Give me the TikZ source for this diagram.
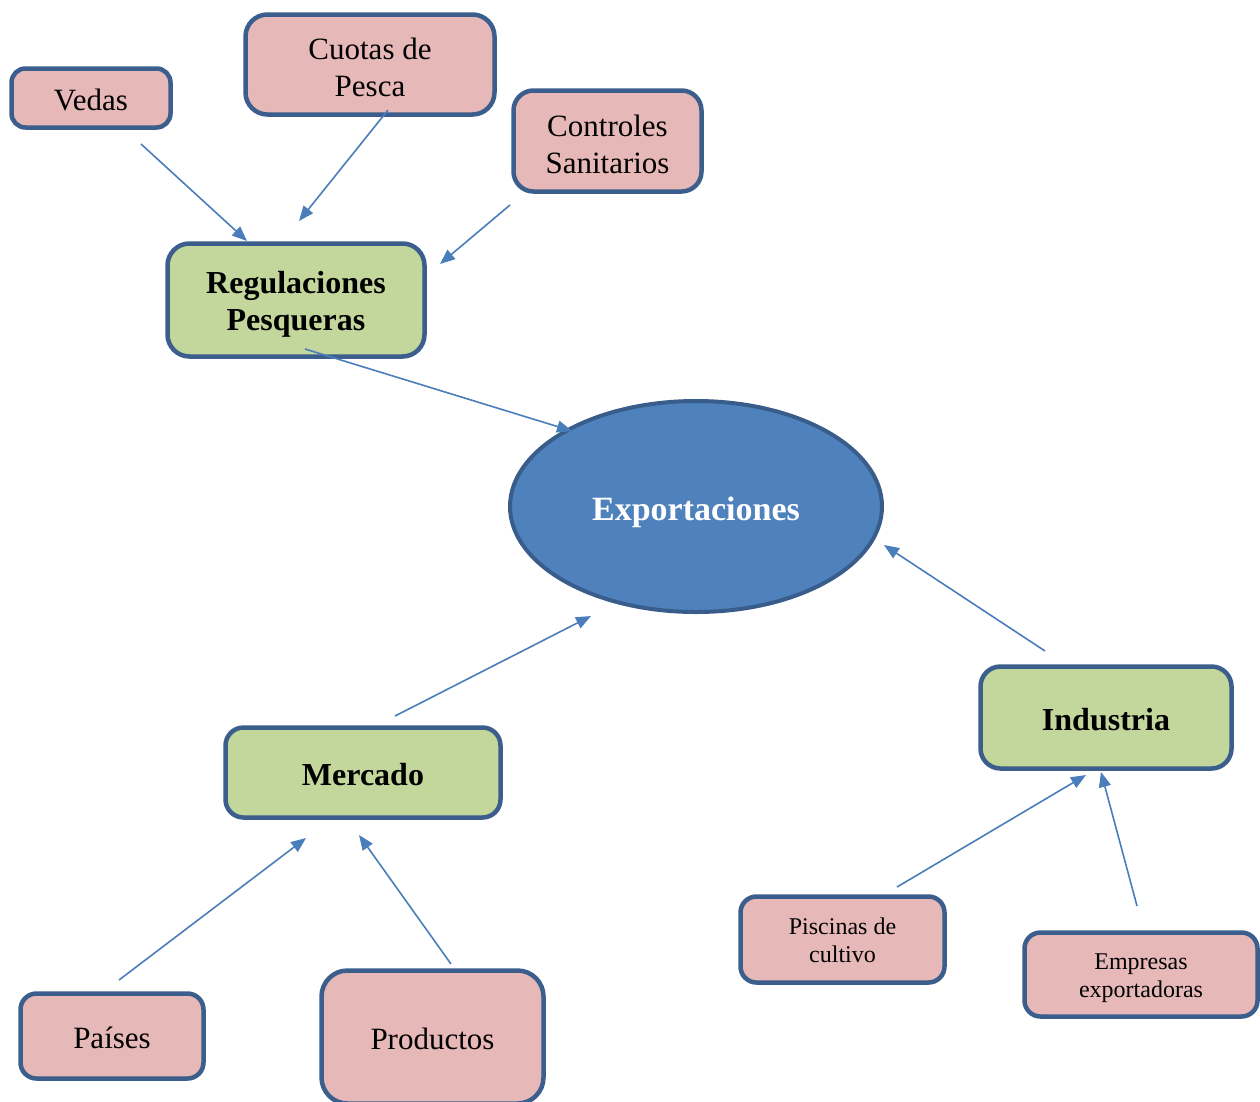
\documentclass[tikz,border=0pt]{standalone}
\usepackage{fontspec}
\setmainfont{Liberation Serif}
\usetikzlibrary{arrows.meta,shapes.geometric}
\definecolor{boxline}{HTML}{3B5E8C}
\definecolor{pinkfill}{HTML}{E6B9B8}
\definecolor{greenfill}{HTML}{C3D69B}
\definecolor{ovalfill}{HTML}{4F81BD}
\definecolor{ovalline}{HTML}{385D8A}
\definecolor{arrowcol}{HTML}{4A7EBB}
\tikzset{
  pinkbox/.style={draw=boxline, line width=4.5pt, fill=pinkfill, align=center, inner sep=0pt},
  greenbox/.style={draw=boxline, line width=4.5pt, fill=greenfill, align=center, inner sep=0pt, font=\fontsize{32}{37}\selectfont\bfseries},
  bigtext/.style={font=\fontsize{31}{37}\selectfont},
  smalltext/.style={font=\fontsize{24}{28}\selectfont, text height=46.5pt, text depth=1pt},
  oneline/.style={text height=28pt, text depth=3pt},
  twoline/.style={text height=65pt, text depth=1pt},
  twolinebold/.style={text height=61pt, text depth=1pt},
  conn/.style={draw=arrowcol, line width=1.6pt, -{Triangle[length=15pt,width=12pt]}}
}
\begin{document}
\begin{tikzpicture}[x=1pt,y=-1pt]
\useasboundingbox (0,0) rectangle (1260,1101);
\clip (0,0) rectangle (1260,1101);
\fill[white] (0,0) rectangle (1260,1101);
% nodes
\node[pinkbox, bigtext, oneline, minimum width=159pt, minimum height=59pt, rounded corners=14pt] (vedas) at (91,98) {Vedas};
\node[pinkbox, bigtext, twoline, minimum width=249pt, minimum height=100pt, rounded corners=22pt] (cuotas) at (370,64.5) {Cuotas de\\Pesca};
\node[pinkbox, bigtext, twoline, minimum width=188pt, minimum height=101pt, rounded corners=20pt] (controles) at (607.5,141) {Controles\\Sanitarios};
\node[greenbox, twolinebold, minimum width=257pt, minimum height=113pt, rounded corners=22pt] (reg) at (296,300) {Regulaciones\\Pesqueras};
\node[ellipse, draw=ovalline, line width=4pt, fill=ovalfill, minimum width=372pt, minimum height=211pt, inner sep=0pt, text=white, font=\fontsize{34}{40}\selectfont\bfseries, text height=30pt, text depth=2pt] (expo) at (696,506.5) {Exportaciones};
\node[greenbox, oneline, minimum width=275pt, minimum height=90pt, rounded corners=18pt] (mercado) at (363,772.5) {Mercado};
\node[greenbox, oneline, minimum width=251pt, minimum height=102pt, rounded corners=20pt] (industria) at (1106,717.5) {Industria};
\node[pinkbox, bigtext, oneline, minimum width=183pt, minimum height=85pt, rounded corners=16pt] (paises) at (112,1036) {Países};
\node[pinkbox, bigtext, oneline, minimum width=222pt, minimum height=133pt, rounded corners=26pt] (productos) at (432.5,1037) {Productos};
\node[pinkbox, smalltext, minimum width=204pt, minimum height=86pt, rounded corners=16pt] (piscinas) at (842.5,939.5) {Piscinas de\\cultivo};
\node[pinkbox, smalltext, minimum width=233pt, minimum height=84pt, rounded corners=16pt] (empresas) at (1141,974.5) {Empresas\\exportadoras};
% connector end points
\coordinate (vedasT) at (141,144);
\coordinate (vedasH) at (247,241);
\coordinate (cuotasT) at (388,110);
\coordinate (cuotasH) at (299,221);
\coordinate (controlesT) at (510,205);
\coordinate (controlesH) at (440,264);
\coordinate (regT) at (305,349);
\coordinate (regH) at (572,431);
\coordinate (mercadoT) at (395,716);
\coordinate (mercadoH) at (591,616);
\coordinate (industriaT) at (1045,651);
\coordinate (industriaH) at (884,545);
\coordinate (piscinasT) at (897,887);
\coordinate (piscinasH) at (1086,775);
\coordinate (empresasT) at (1137,906);
\coordinate (empresasH) at (1101,772);
\coordinate (paisesT) at (119,980);
\coordinate (paisesH) at (306,838);
\coordinate (productosT) at (451,964);
\coordinate (productosH) at (359,835);
% connectors
\draw[conn] (vedasT) -- (vedasH);
\draw[conn] (cuotasT) -- (cuotasH);
\draw[conn] (controlesT) -- (controlesH);
\draw[conn] (regT) -- (regH);
\draw[conn] (mercadoT) -- (mercadoH);
\draw[conn] (industriaT) -- (industriaH);
\draw[conn] (piscinasT) -- (piscinasH);
\draw[conn] (empresasT) -- (empresasH);
\draw[conn] (paisesT) -- (paisesH);
\draw[conn] (productosT) -- (productosH);
\end{tikzpicture}
\end{document}
